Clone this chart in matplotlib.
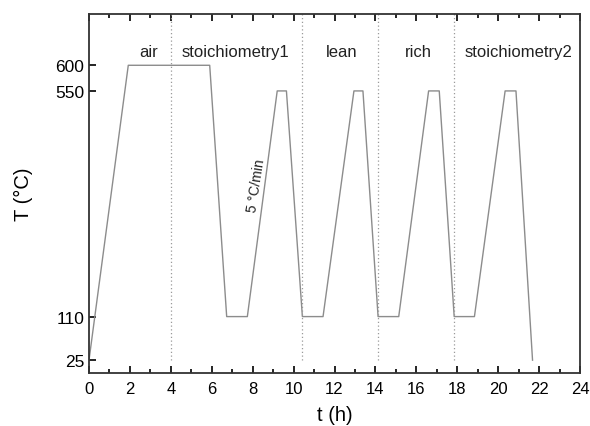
import matplotlib
matplotlib.use('Agg')
import matplotlib.pyplot as plt
from matplotlib.ticker import MultipleLocator

plt.rcParams['font.family'] = ['Liberation Sans', 'DejaVu Sans']

# temperature program (time in h, temperature in degC)
t_h = [0, 1.92, 5.90, 6.73, 7.74, 9.20, 9.65, 10.43, 11.44, 12.95, 13.39,
       14.13, 15.14, 16.60, 17.12, 17.85, 18.84, 20.34, 20.87, 21.68]
temp_c = [25, 600, 600, 110, 110, 550, 550, 110, 110, 550, 550,
          110, 110, 550, 550, 110, 110, 550, 550, 25]

# gas switch times and labels
switch_t = [4.0, 10.43, 14.13, 17.85]
phase_labels = ['air', 'stoichiometry1', 'lean', 'rich', 'stoichiometry2']
phase_x = [2.9, 7.15, 12.37, 16.1, 21.0]

yticks = [25, 110, 550, 600]

fig = plt.figure(figsize=(5.9, 4.27), dpi=100)
ax = fig.add_axes([89 / 590, 1 - 374 / 427, (580 - 89) / 590, (374 - 15) / 427])

ax.plot(t_h, temp_c, color='#8c8c8c', lw=1.0)
for xs in switch_t:
    ax.plot([xs, xs], [25, 700], color='#9a9a9a', lw=0.9, ls=(0, (1, 2)))

for lab, xp in zip(phase_labels, phase_x):
    ax.text(xp, 627, lab, ha='center', va='center', fontsize=12, color='#222222')

ax.text(8.18, 366, '5 °C/min', rotation=81, ha='center', va='center',
        fontsize=10, color='#222222')

ax.set_xlim(0, 24)
ax.set_ylim(0, 700)
ax.xaxis.set_major_locator(MultipleLocator(2))
ax.xaxis.set_minor_locator(MultipleLocator(1))
ax.set_yticks(yticks)
ax.tick_params(axis='x', which='both', direction='in', top=True, labelsize=12, pad=6)
ax.tick_params(axis='x', which='major', length=5, width=1.2)
ax.tick_params(axis='x', which='minor', length=3, width=1.2)
ax.tick_params(axis='y', which='both', direction='in', right=False, labelsize=12.5,
               length=5, width=1.2)
for s in ax.spines.values():
    s.set_linewidth(1.3)
    s.set_color('#333333')

ax.set_xlabel('t (h)', fontsize=14.5, labelpad=6)
ax.set_ylabel('T (°C)', fontsize=14.5, labelpad=16)

fig.savefig('out.png', dpi=100)
